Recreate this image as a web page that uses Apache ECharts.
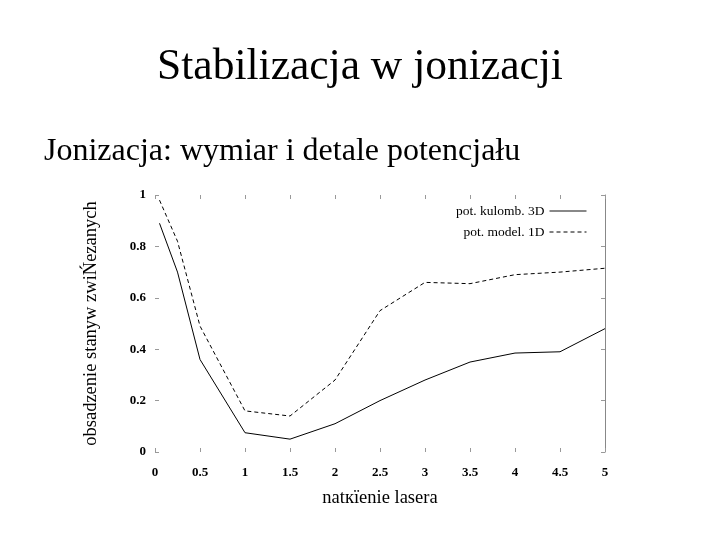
<!DOCTYPE html>
<html><head><meta charset="utf-8">
<script src="https://cdn.jsdelivr.net/npm/echarts@6/dist/echarts.min.js"></script>
<style>html,body{margin:0;padding:0;background:#fff}#c{width:720px;height:540px}</style>
</head><body><div id="c"></div>
<script>
const xValues = [0.05, 0.25, 0.5, 1, 1.5, 2, 2.5, 3, 3.5, 4, 4.5, 5];
const kulomb3D = [0.89, 0.70, 0.36, 0.075, 0.05, 0.11, 0.20, 0.28, 0.35, 0.385, 0.39, 0.48];
const model1D  = [0.98, 0.82, 0.49, 0.16, 0.14, 0.28, 0.55, 0.66, 0.655, 0.69, 0.70, 0.715];
const seriesNames = ['pot. kulomb. 3D', 'pot. model. 1D'];
const xTicks = [0, 0.5, 1, 1.5, 2, 2.5, 3, 3.5, 4, 4.5, 5];
const yTicks = [0, 0.2, 0.4, 0.6, 0.8, 1];

const chart = echarts.init(document.getElementById('c'));
const serif = '"Liberation Serif", "DejaVu Serif", serif';
const tickStyle = {show:true, inside:true, length:4, lineStyle:{color:'#999', width:1}};
chart.setOption({
  animation:false,
  backgroundColor:'#fff',
  title:[
    {text:'Stabilizacja w jonizacji', left:'center', top:41,
     textStyle:{fontFamily:serif, fontSize:43.5, fontWeight:'normal', color:'#000'}},
    {text:'Jonizacja: wymiar i detale potencjału', left:39, top:131,
     textStyle:{fontFamily:serif, fontSize:32, fontWeight:'normal', color:'#000'}}
  ],
  legend:{
    right:128, top:199, orient:'vertical', align:'right', itemWidth:37, itemHeight:10, itemGap:7,
    itemStyle:{opacity:0},
    textStyle:{fontFamily:serif, fontSize:13.5, color:'#000'},
    data:[
      {name:seriesNames[0], icon:'path://M0,0h1v0.01h-1zM0,4.1h37v1.8h-37zM0,10h1v0.01h-1z',
       itemStyle:{color:'#888', opacity:1, borderWidth:0}},
      {name:seriesNames[1], lineStyle:{color:'#000', width:1, type:[4,3]}}
    ]
  },
  grid:{left:155, right:115, top:195, bottom:88},
  xAxis:[
    {type:'value', min:0, max:5, interval:0.5, position:'bottom',
     name:'natкїenie lasera', nameLocation:'middle', nameGap:37,
     nameTextStyle:{fontFamily:serif, fontSize:18.5, color:'#000'},
     axisLine:{show:false, onZero:false}, axisTick:tickStyle, splitLine:{show:false},
     axisLabel:{fontFamily:serif, fontSize:13, fontWeight:'bold', color:'#000', margin:14,
       formatter:v=>xTicks.includes(v)?String(v):''}},
    {type:'value', min:0, max:5, interval:0.5, position:'top',
     axisLine:{show:false, onZero:false}, axisTick:tickStyle, splitLine:{show:false}, axisLabel:{show:false}}
  ],
  yAxis:[
    {type:'value', min:0, max:1, interval:0.2, position:'left',
     name:'obsadzenie stanyw zwiŃezanych', nameLocation:'middle', nameGap:54, nameRotate:90,
     nameTextStyle:{fontFamily:serif, fontSize:18.5, color:'#000'},
     axisLine:{show:false, onZero:false}, axisTick:tickStyle, splitLine:{show:false},
     axisLabel:{fontFamily:serif, fontSize:13, fontWeight:'bold', color:'#000', margin:9,
       formatter:v=>yTicks.includes(+v.toFixed(1))?String(+v.toFixed(1)):''}},
    {type:'value', min:0, max:1, interval:0.2, position:'right',
     axisLine:{show:true, onZero:false, lineStyle:{color:'#888', width:1}}, axisTick:tickStyle,
     splitLine:{show:false}, axisLabel:{show:false}}
  ],
  series:[
    {name:seriesNames[0], type:'line', symbol:'none', data:xValues.map((x,i)=>[x,kulomb3D[i]]),
     lineStyle:{color:'#000', width:1}, itemStyle:{color:'#000'}},
    {name:seriesNames[1], type:'line', symbol:'none', data:xValues.map((x,i)=>[x,model1D[i]]),
     lineStyle:{color:'#000', width:1, type:[4,3]}, itemStyle:{color:'#000'}}
  ]
});
</script></body></html>
